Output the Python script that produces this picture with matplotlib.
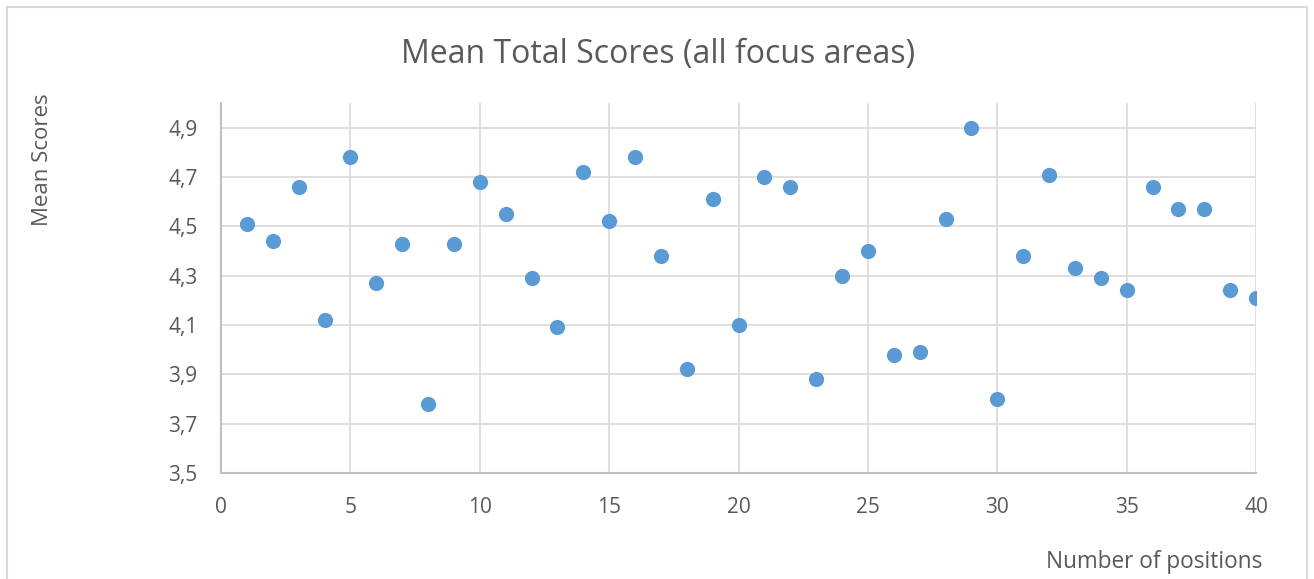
import matplotlib.pyplot as plt
from matplotlib.patches import Rectangle
from matplotlib.ticker import FuncFormatter

# data
positions = list(range(1, 41))
mean_scores = [4.51, 4.44, 4.66, 4.12, 4.78, 4.27, 4.43, 3.78, 4.43, 4.68,
               4.55, 4.29, 4.09, 4.72, 4.52, 4.78, 4.38, 3.92, 4.61, 4.10,
               4.70, 4.66, 3.88, 4.30, 4.40, 3.98, 3.99, 4.53, 4.90, 3.80,
               4.38, 4.71, 4.33, 4.29, 4.24, 4.66, 4.57, 4.57, 4.24, 4.21]
x_ticks = [0, 5, 10, 15, 20, 25, 30, 35, 40]
y_ticks = [3.5, 3.7, 3.9, 4.1, 4.3, 4.5, 4.7, 4.9]

plt.rcParams['font.family'] = ['Open Sans', 'DejaVu Sans']
txt = '#595959'
grid = '#d9d9d9'

fig = plt.figure(figsize=(13.14, 5.79), dpi=100, facecolor='white')
ax = fig.add_axes([221/1314, 1 - 473/579, (1256 - 221)/1314, (473 - 103)/579])

ax.scatter(positions, mean_scores, s=120, color='#5b9bd5', zorder=3, linewidths=0)

ax.set_xlim(0, 40)
ax.set_ylim(3.5, 5.0)
ax.set_xticks(x_ticks)
ax.set_yticks(y_ticks)
ax.yaxis.set_major_formatter(FuncFormatter(lambda v, p: f'{v:.1f}'.replace('.', ',')))
ax.tick_params(length=0, labelsize=15, colors=txt)
ax.tick_params(axis='y', pad=17)
ax.tick_params(axis='x', pad=17)
ax.grid(True, color=grid, linewidth=1.2)
ax.set_axisbelow(True)

for s in ['top', 'right']:
    ax.spines[s].set_visible(False)
for s in ['left', 'bottom']:
    ax.spines[s].set_color('#bfbfbf')
    ax.spines[s].set_linewidth(1.5)

fig.text(658/1314, 1 - 55/579, 'Mean Total Scores (all focus areas)',
         ha='center', va='center', fontsize=23, color=txt)
fig.text(43/1314, 1 - 160/579, 'Mean Scores', rotation=90,
         ha='center', va='center', fontsize=16, color=txt)
fig.text(1262/1314, 1 - 562/579, 'Number of positions',
         ha='right', va='center', fontsize=16.3, color=txt)

# chart frame
fig.patches.append(Rectangle((7/1314, -0.05), 1300/1314, 1.05 - 7/579,
                             transform=fig.transFigure, fill=False,
                             edgecolor=grid, linewidth=1.5))

plt.savefig('out.png', dpi=100)
